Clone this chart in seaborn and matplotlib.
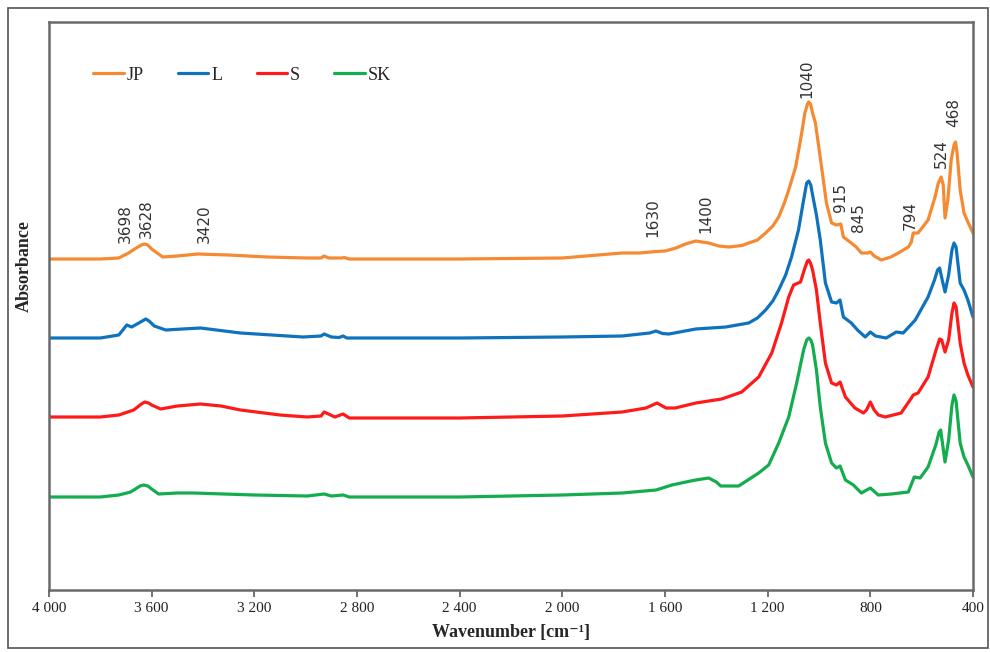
import pandas as pd
import matplotlib
matplotlib.use("Agg")
import matplotlib.pyplot as plt
from matplotlib.patches import Rectangle
import seaborn as sns

# FTIR spectra: wavenumber [cm-1] and absorbance (arb. units, stacked)
jp_w = [4000, 3800, 3728, 3690, 3660, 3640, 3628, 3615, 3600, 3557, 3500, 3420, 3300, 3150,
        2994, 2940, 2928, 2910, 2860, 2850, 2830, 2400, 2000, 1767, 1700, 1635, 1600, 1557,
        1520, 1480, 1430, 1390, 1351, 1300, 1274, 1240, 1208, 1180, 1157, 1135, 1118, 1091,
        1070, 1055, 1045, 1040, 1033, 1025, 1014, 990, 971, 951, 932, 915, 905, 874, 855, 835,
        810, 800, 785, 757, 720, 691, 652, 640, 633, 614, 575, 548, 535, 524, 516, 509, 498,
        485, 474, 468, 462, 450, 435, 420, 400]
jp_a = [3.16, 3.16, 3.17, 3.22, 3.27, 3.30, 3.31, 3.30, 3.26, 3.18, 3.19, 3.21, 3.20, 3.18,
        3.17, 3.17, 3.19, 3.17, 3.17, 3.175, 3.16, 3.16, 3.17, 3.22, 3.22, 3.235, 3.24, 3.27,
        3.31, 3.34, 3.32, 3.29, 3.28, 3.295, 3.32, 3.35, 3.42, 3.49, 3.58, 3.72, 3.85, 4.08,
        4.38, 4.62, 4.71, 4.73, 4.71, 4.62, 4.52, 4.08, 3.72, 3.52, 3.50, 3.51, 3.38, 3.32,
        3.28, 3.22, 3.22, 3.23, 3.19, 3.15, 3.18, 3.22, 3.28, 3.33, 3.42, 3.42, 3.55, 3.78,
        3.92, 3.98, 3.90, 3.57, 3.75, 4.15, 4.30, 4.33, 4.22, 3.85, 3.62, 3.53, 3.42]

l_w = [4000, 3800, 3728, 3697, 3678, 3650, 3630, 3623, 3610, 3590, 3545, 3480, 3410, 3254,
       3010, 2940, 2928, 2900, 2870, 2854, 2840, 2400, 2000, 1767, 1660, 1635, 1610, 1585,
       1480, 1363, 1274, 1240, 1208, 1180, 1157, 1130, 1107, 1080, 1060, 1048, 1040, 1032,
       1025, 1010, 995, 975, 951, 932, 918, 905, 874, 850, 820, 800, 780, 738, 712, 699, 672,
       625, 575, 550, 538, 530, 520, 509, 495, 482, 474, 466, 450, 435, 420, 400]
l_a = [2.37, 2.37, 2.40, 2.50, 2.48, 2.52, 2.55, 2.56, 2.54, 2.49, 2.45, 2.46, 2.47, 2.42,
       2.38, 2.39, 2.41, 2.38, 2.375, 2.39, 2.37, 2.37, 2.38, 2.39, 2.42, 2.44, 2.415, 2.41,
       2.46, 2.48, 2.52, 2.57, 2.65, 2.74, 2.85, 3.00, 3.18, 3.45, 3.75, 3.92, 3.94, 3.90,
       3.80, 3.60, 3.35, 2.92, 2.73, 2.72, 2.75, 2.58, 2.52, 2.45, 2.38, 2.43, 2.39, 2.37,
       2.41, 2.43, 2.42, 2.55, 2.78, 2.95, 3.05, 3.07, 2.95, 2.83, 3.00, 3.25, 3.32, 3.28,
       2.92, 2.85, 2.75, 2.58]

s_w = [4000, 3800, 3728, 3670, 3640, 3627, 3612, 3600, 3565, 3500, 3410, 3330, 3254, 3100,
       2994, 2940, 2928, 2886, 2854, 2830, 2400, 2000, 1767, 1674, 1631, 1596, 1560, 1480,
       1379, 1301, 1235, 1184, 1146, 1118, 1099, 1072, 1055, 1045, 1040, 1033, 1025, 1010,
       995, 975, 951, 932, 918, 897, 860, 827, 815, 800, 785, 769, 742, 680, 640, 633, 614,
       575, 544, 530, 522, 509, 495, 482, 474, 466, 450, 435, 420, 400]
s_a = [1.58, 1.58, 1.60, 1.65, 1.71, 1.73, 1.72, 1.70, 1.66, 1.69, 1.71, 1.69, 1.65, 1.60,
       1.58, 1.59, 1.63, 1.58, 1.61, 1.57, 1.57, 1.59, 1.63, 1.67, 1.72, 1.67, 1.67, 1.72,
       1.76, 1.83, 1.98, 2.22, 2.52, 2.78, 2.90, 2.93, 3.07, 3.14, 3.15, 3.12, 3.05, 2.85,
       2.52, 2.12, 1.92, 1.90, 1.93, 1.78, 1.67, 1.62, 1.65, 1.73, 1.65, 1.60, 1.58, 1.62,
       1.77, 1.80, 1.82, 1.98, 2.25, 2.36, 2.35, 2.23, 2.35, 2.62, 2.72, 2.68, 2.32, 2.12,
       2.00, 1.88]

sk_w = [4000, 3800, 3728, 3682, 3645, 3631, 3615, 3600, 3573, 3500, 3437, 3200, 2994, 2928,
        2900, 2854, 2830, 2400, 2000, 1767, 1635, 1573, 1500, 1480, 1430, 1400, 1383, 1313,
        1235, 1196, 1157, 1118, 1087, 1060, 1048, 1040, 1032, 1025, 1010, 995, 975, 951, 932,
        918, 897, 866, 835, 800, 769, 718, 652, 629, 606, 575, 545, 532, 526, 518, 509, 495,
        482, 474, 466, 450, 435, 420, 400]
sk_a = [0.78, 0.78, 0.80, 0.83, 0.89, 0.90, 0.89, 0.86, 0.81, 0.82, 0.82, 0.80, 0.79, 0.81,
        0.79, 0.80, 0.78, 0.78, 0.80, 0.82, 0.85, 0.90, 0.94, 0.95, 0.97, 0.93, 0.89, 0.89,
        1.02, 1.10, 1.32, 1.58, 1.92, 2.25, 2.35, 2.37, 2.35, 2.30, 2.05, 1.68, 1.32, 1.12,
        1.07, 1.09, 0.95, 0.90, 0.82, 0.87, 0.80, 0.81, 0.83, 0.98, 0.97, 1.08, 1.30, 1.43,
        1.45, 1.30, 1.13, 1.35, 1.70, 1.80, 1.74, 1.32, 1.18, 1.10, 0.98]

samples = ["JP", "L", "S", "SK"]
colors = ["#F58A33", "#0F72BD", "#FF1A1A", "#13AD4F"]

peak_labels = ["3698", "3628", "3420", "1630", "1400", "1040", "915", "845", "794", "524", "468"]
label_w = [3704, 3622, 3396, 1647, 1441, 1047, 915, 845, 646, 525, 475]
label_a = [3.32, 3.37, 3.32, 3.38, 3.42, 4.77, 3.63, 3.43, 3.45, 4.07, 4.48]

tick_vals = [4000, 3600, 3200, 2800, 2400, 2000, 1600, 1200, 800, 400]
tick_text = ["4 000", "3 600", "3 200", "2 800", "2 400", "2 000", "1 600", "1 200", "800", "400"]

frames = []
for name, w, a in zip(samples, [jp_w, l_w, s_w, sk_w], [jp_a, l_a, s_a, sk_a]):
    frames.append(pd.DataFrame({"Wavenumber": w, "Absorbance": a, "Sample": name}))
df = pd.concat(frames, ignore_index=True)

sns.set_style("white")
plt.rcParams["font.family"] = ["DejaVu Sans"]

fig = plt.figure(figsize=(9.9, 6.52), dpi=100)
ax = fig.add_axes([49 / 990, 1 - 590 / 652, 924 / 990, 568 / 652])

sns.lineplot(data=df, x="Wavenumber", y="Absorbance", hue="Sample", hue_order=samples,
             palette=colors, estimator=None, errorbar=None, sort=True, lw=2.3, ax=ax)

ax.set_xlim(4000, 400)
ax.set_ylim(-0.15, 5.53)
ax.set_yticks([])
ax.set_xticks(tick_vals)
ax.set_xticklabels(tick_text, family=["Liberation Serif"], fontsize=11, color="#222222")
ax.tick_params(axis="x", bottom=True, direction="out", length=5, width=1.3, color="#666666", pad=4)

for sp in ax.spines.values():
    sp.set_color("#6a6a6a")
    sp.set_linewidth(1.8)

for lab, w, a in zip(peak_labels, label_w, label_a):
    ax.text(w, a, lab, rotation=90, ha="center", va="bottom", fontsize=11, color="#333333")

ax.set_xlabel("Wavenumber [cm⁻¹]", family=["Liberation Serif", "DejaVu Serif"],
              fontweight="bold", fontsize=13, labelpad=6)
ax.set_ylabel("Absorbance", family=["Liberation Serif"], fontweight="bold", fontsize=13)
ax.yaxis.set_label_coords(-0.018, 0.57)

leg = ax.legend(loc="upper left", bbox_to_anchor=(0.03, 0.95), ncol=4, frameon=False,
                handlelength=1.7, handletextpad=0.15, columnspacing=1.9,
                prop={"family": "Liberation Serif", "size": 13})
for line in leg.get_lines():
    line.set_linewidth(2.3)

fig.add_artist(Rectangle((8 / 990, 4 / 652), 980 / 990, 640 / 652, transform=fig.transFigure,
                         fill=False, ec="#555555", lw=1.2))

fig.savefig("out.png", dpi=100)
